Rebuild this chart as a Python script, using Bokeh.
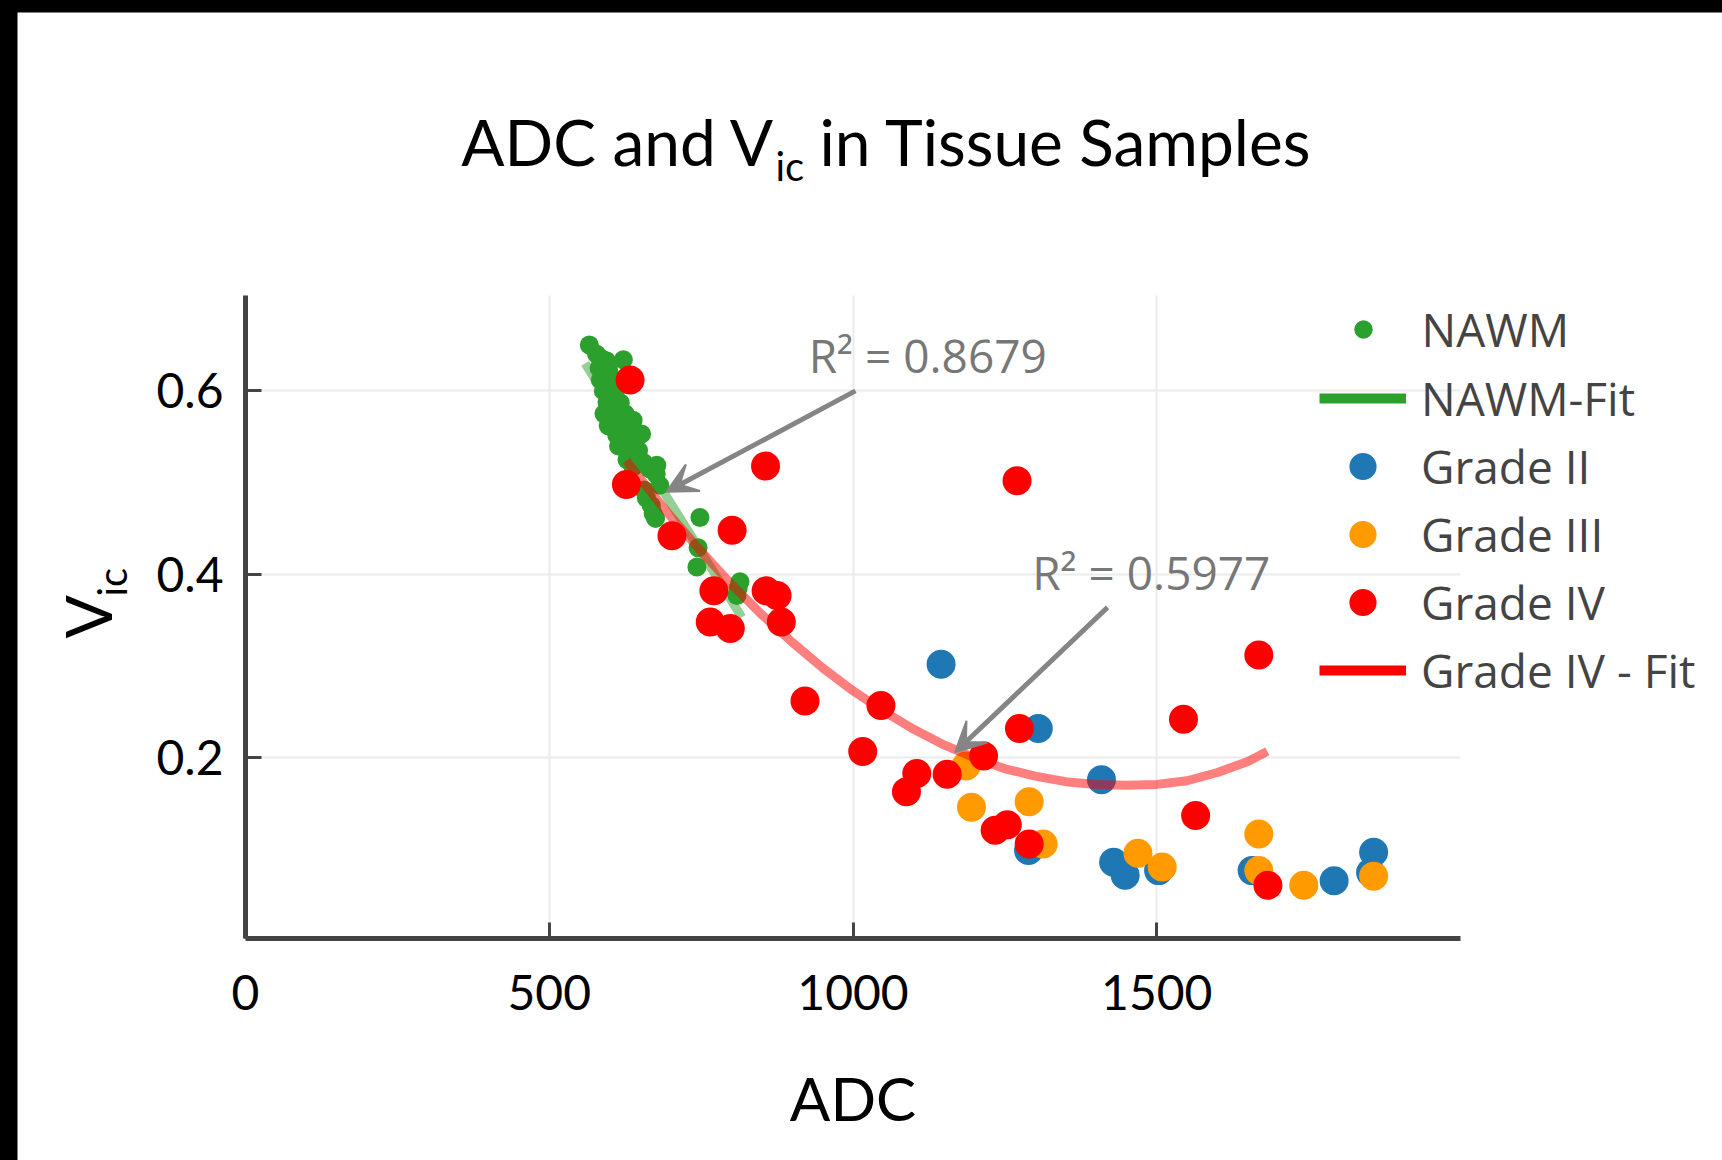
from math import pi
from bokeh.plotting import figure
from bokeh.models import (Range1d, FixedTicker, Label, Arrow, VeeHead, Legend,
                          LegendItem, Grid)
from bokeh.layouts import column
from bokeh.embed import file_html
from bokeh.resources import INLINE

# ---------------- data ----------------
nawm_adc = [566, 578, 586, 594, 622, 582, 590, 598, 584, 593, 601, 589, 598, 608,
            595, 602, 611, 617, 590, 600, 607, 619, 625, 638, 597, 611, 620, 627,
            633, 645, 652, 614, 622, 633, 647, 628, 638, 655, 665, 677, 676, 682,
            656, 660, 668, 671, 675, 748, 745, 743, 814, 809, 811]
nawm_vic = [0.650, 0.640, 0.635, 0.633, 0.634, 0.625, 0.620, 0.622, 0.612, 0.608,
            0.612, 0.600, 0.597, 0.597, 0.588, 0.590, 0.585, 0.587, 0.575, 0.572,
            0.568, 0.571, 0.575, 0.568, 0.562, 0.552, 0.556, 0.557, 0.548, 0.552,
            0.553, 0.540, 0.539, 0.533, 0.535, 0.525, 0.517, 0.522, 0.515, 0.519,
            0.509, 0.497, 0.492, 0.483, 0.475, 0.466, 0.461, 0.462, 0.429, 0.408,
            0.392, 0.377, 0.385]

nawm_fit_adc = [559, 620, 694, 760, 817]
nawm_fit_vic = [0.630, 0.565, 0.484, 0.414, 0.353]

g2_adc = [1145, 1305, 1409, 1289, 1429, 1448, 1503, 1657, 1792, 1857, 1852]
g2_vic = [0.302, 0.232, 0.176, 0.099, 0.086, 0.072, 0.077, 0.077, 0.066, 0.097, 0.075]

g3_adc = [1186, 1195, 1290, 1313, 1469, 1509, 1668, 1668, 1742, 1857]
g3_vic = [0.191, 0.146, 0.152, 0.106, 0.096, 0.081, 0.117, 0.077, 0.061, 0.071]

g4_adc = [633, 627, 856, 1270, 702, 801, 771, 857, 875, 765, 798, 882, 921, 1046,
          1016, 1215, 1274, 1105, 1155, 1088, 1234, 1254, 1290, 1564, 1668, 1544, 1683]
g4_vic = [0.612, 0.498, 0.518, 0.502, 0.442, 0.448, 0.382, 0.382, 0.377, 0.348,
          0.341, 0.348, 0.262, 0.257, 0.207, 0.202, 0.232, 0.183, 0.182, 0.163,
          0.121, 0.127, 0.106, 0.137, 0.312, 0.242, 0.061]

g4_fit_adc = [627, 650, 700, 750, 800, 850, 900, 950, 1000, 1050, 1100, 1150, 1200,
              1250, 1300, 1350, 1400, 1450, 1500, 1550, 1600, 1650, 1682]
g4_fit_vic = [0.524, 0.504, 0.463, 0.425, 0.389, 0.356, 0.326, 0.298, 0.273, 0.251,
              0.231, 0.214, 0.200, 0.188, 0.180, 0.174, 0.171, 0.170, 0.171, 0.175,
              0.184, 0.196, 0.207]

x_ticks = [0, 500, 1000, 1500]
y_ticks = [0.2, 0.4, 0.6]
x_bounds = (0, 2000)
y_bounds = (0.003, 0.704)

# annotations: text, text position, arrow tail, arrow head (data units)
r2_texts = ["R\u00b2 = 0.8679", "R\u00b2 = 0.5977"]
r2_text_adc = [927, 1295]
r2_text_vic = [0.639, 0.403]
arrow_tail_adc = [1004, 1419]
arrow_tail_vic = [0.600, 0.364]
arrow_head_adc = [693, 1168]
arrow_head_vic = [0.490, 0.206]

GREEN = "#2ca02c"
BLUE = "#1f77b4"
ORANGE = "#ff9a00"
RED = "#ff0000"
MAIN_FONT = "Lato"
LEG_FONT = "Open Sans"
NAN = float("nan")

# ---------------- geometry of the canvas ----------------
CW, CH = 1705, 1148            # canvas size (page is 1722x1160, black band top/left)
PLOT_LEFT, PLOT_BOTTOM = 228, 222   # plot area inside the canvas (px)
PLOT_W, PLOT_H = 1215, 643
sx_per = PLOT_W / (x_bounds[1] - x_bounds[0])
sy_per = PLOT_H / (y_bounds[1] - y_bounds[0])
x_range = Range1d(x_bounds[0] - PLOT_LEFT / sx_per,
                  x_bounds[0] + (CW - PLOT_LEFT) / sx_per)
y_range = Range1d(y_bounds[0] - PLOT_BOTTOM / sy_per,
                  y_bounds[0] + (CH - PLOT_BOTTOM) / sy_per)

p = figure(width=CW, height=CH, x_range=x_range, y_range=y_range,
           output_backend="svg", toolbar_location=None, min_border=0)
p.margin = (12, 0, 0, 17)
p.background_fill_color = "white"
p.border_fill_color = "white"
p.outline_line_color = None

for ax in (p.xaxis[0], p.yaxis[0]):
    ax.axis_line_color = "#444444"
    ax.axis_line_width = 5
    ax.major_tick_line_color = "#444444"
    ax.major_tick_line_width = 3
    ax.major_tick_in = 16
    ax.major_tick_out = 0
    ax.minor_tick_line_color = None
    ax.major_label_text_font = MAIN_FONT
    ax.major_label_text_font_size = "48px"
    ax.major_label_text_color = "black"

p.xaxis.fixed_location = y_bounds[0]
p.yaxis.fixed_location = x_bounds[0]
p.xaxis.bounds = x_bounds
p.yaxis.bounds = y_bounds
p.xaxis.ticker = FixedTicker(ticks=x_ticks)
p.yaxis.ticker = FixedTicker(ticks=y_ticks)
p.xaxis.major_label_standoff = 36
p.yaxis.major_label_standoff = 22
p.xaxis.axis_label = "ADC"
p.xaxis.axis_label_text_font = MAIN_FONT
p.xaxis.axis_label_text_font_size = "60px"
p.xaxis.axis_label_text_font_style = "normal"
p.xaxis.axis_label_text_color = "black"
p.xaxis.axis_label_standoff = 49

for g in (p.xgrid[0], p.ygrid[0]):
    g.grid_line_color = "#ebebeb"
    g.grid_line_width = 2
if "cross_bounds" in Grid.properties():
    p.xgrid.cross_bounds = y_bounds
    p.ygrid.cross_bounds = x_bounds

# ---------------- marks ----------------
r_nawm = p.scatter(nawm_adc, nawm_vic, size=19, color=GREEN, line_color=None)
p.line(nawm_fit_adc, nawm_fit_vic, line_color=GREEN, line_alpha=0.5, line_width=9)
r_g2 = p.scatter(g2_adc, g2_vic, size=29, color=BLUE, line_color=None)
r_g3 = p.scatter(g3_adc, g3_vic, size=29, color=ORANGE, line_color=None)
r_g4 = p.scatter(g4_adc, g4_vic, size=29, color=RED, line_color=None)
p.line(g4_fit_adc, g4_fit_vic, line_color=RED, line_alpha=0.5, line_width=9)

# legend-only line renderers (opaque as in the legend, nothing drawn in the plot)
leg_nawm_fit = p.line([NAN, NAN], [NAN, NAN], line_color=GREEN, line_width=10)
leg_g4_fit = p.line([NAN, NAN], [NAN, NAN], line_color=RED, line_width=10)

# ---------------- annotations ----------------
for i in range(2):
    p.add_layout(Arrow(end=VeeHead(size=30, fill_color="#858585", fill_alpha=1.0,
                                   line_color="#858585", line_width=2),
                       x_start=arrow_tail_adc[i], y_start=arrow_tail_vic[i],
                       x_end=arrow_head_adc[i], y_end=arrow_head_vic[i],
                       line_color="#858585", line_width=5))
    p.add_layout(Label(x=r2_text_adc[i], y=r2_text_vic[i], text=r2_texts[i],
                       text_font=LEG_FONT, text_font_size="46px", text_color="#777777",
                       text_baseline="middle", text_align="left"))

# ---------------- legends (screen px from canvas bottom-left) ----------------
common = dict(orientation="vertical", padding=0, spacing=0, margin=0,
              border_line_color=None, background_fill_alpha=0,
              label_text_font=LEG_FONT, label_text_font_size="46px",
              label_text_color="#444444")
legA = Legend(items=[LegendItem(label="NAWM", renderers=[r_nawm])],
              location=(1322.5, 797.5), glyph_width=46, glyph_height=68,
              label_height=68, label_standoff=36, **common)
legB = Legend(items=[LegendItem(label="NAWM-Fit", renderers=[leg_nawm_fit]),
                     LegendItem(label="Grade II", renderers=[r_g2]),
                     LegendItem(label="Grade III", renderers=[r_g3]),
                     LegendItem(label="Grade IV", renderers=[r_g4]),
                     LegendItem(label="Grade IV - Fit", renderers=[leg_g4_fit])],
              location=(1302, 456.5), glyph_width=87, glyph_height=68,
              label_height=68, label_standoff=15, **common)
p.add_layout(legA)
p.add_layout(legB)

# ---------------- title and y label (with subscripts) ----------------
title_parts = [("ADC and V", 758, 1019, "64px", "right"),
               ("ic", 758, 995, "40px", "left"),
               ("in Tissue Samples", 802, 1019, "64px", "left")]
for txt, x, y, fs, al in title_parts:
    p.add_layout(Label(x=x, y=y, x_units="screen", y_units="screen", text=txt,
                       text_font=MAIN_FONT, text_font_size=fs, text_color="black",
                       text_align=al, text_baseline="middle"))

ylab_parts = [("V", 70, 522, "64px"), ("ic", 94, 564, "40px")]
for txt, x, y, fs in ylab_parts:
    p.add_layout(Label(x=x, y=y, x_units="screen", y_units="screen", text=txt,
                       angle=pi / 2, text_font=MAIN_FONT, text_font_size=fs,
                       text_color="black", text_align="left",
                       text_baseline="middle"))

layout = column(p, styles={"background-color": "black"})
open("out.html", "w").write(file_html(layout, INLINE))
